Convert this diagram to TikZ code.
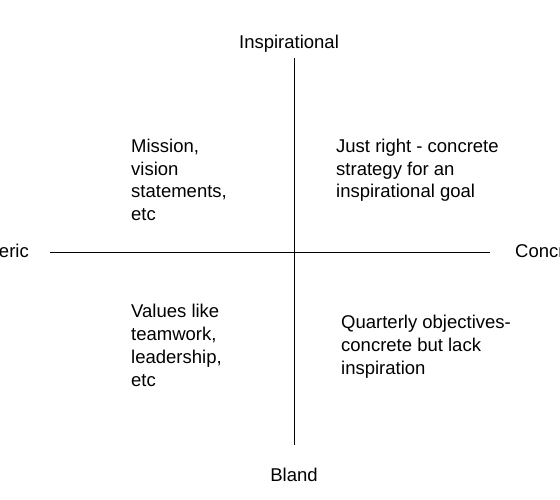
\documentclass[tikz,border=0pt]{standalone}
\usepackage{fontspec}
\setmainfont{Liberation Sans}
\begin{document}
\begin{tikzpicture}[x=1pt,y=-1pt,
  lbl/.style={inner sep=0pt, font=\fontsize{18.5}{23}\selectfont, align=left},
  axis/.style={line width=0.8pt, draw=black}]
\useasboundingbox (0,0) rectangle (560,500);
\coordinate (top) at (294,58);
\coordinate (bot) at (294,445);
\coordinate (lft) at (50,252);
\coordinate (rgt) at (490,252);
\draw[axis] (top) -- (bot);
\draw[axis] (lft) -- (rgt);
\node[lbl, anchor=base] (insp) at (289,49) {Inspirational};
\node[lbl, anchor=base] (bland) at (294,481) {Bland};
\node[lbl, anchor=base east] (gen) at (29,258) {Generic};
\node[lbl, anchor=base west] (conc) at (515,258) {Concrete};
\node[lbl, anchor=base west] (q1) at (131,221) {Mission,\\vision\\statements,\\etc};
\node[lbl, anchor=base west] (q2) at (336,198) {Just right - concrete\\strategy for an\\inspirational goal};
\node[lbl, anchor=base west] (q3) at (131,386) {Values like\\teamwork,\\leadership,\\etc};
\node[lbl, anchor=base west] (q4) at (341,374) {Quarterly objectives-\\concrete but lack\\inspiration};
\end{tikzpicture}
\end{document}
